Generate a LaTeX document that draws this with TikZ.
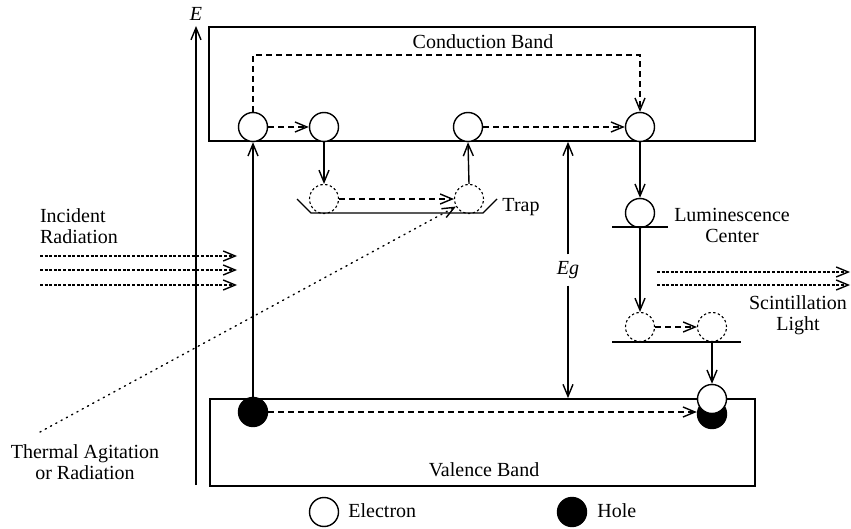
\documentclass[tikz,border=0pt]{standalone}
\usepackage{fontspec}
\setmainfont{Liberation Serif}
\usetikzlibrary{arrows.meta,positioning,calc}

\begin{document}
\begin{tikzpicture}[x=0.5pt, y=-0.5pt,
  band/.style={draw, rectangle, line width=0.85pt, inner sep=0pt},
  elec/.style={draw, circle, fill=white, minimum size=14.5pt, inner sep=0pt, line width=0.7pt},
  hole/.style={draw, circle, fill=black, minimum size=14.5pt, inner sep=0pt, line width=0.7pt},
  trapped/.style={draw, circle, minimum size=14.5pt, inner sep=0pt, line width=0.55pt, dash pattern=on 1.2pt off 1.2pt},
  lbl/.style={font=\fontsize{10}{10.5}\selectfont, align=center},
  arr/.style={-{Straight Barb[length=6pt,width=5pt]}, line width=0.7pt},
  dasharr/.style={arr, dash pattern=on 3pt off 2pt},
  rayarr/.style={arr, dash pattern=on 1.5pt off 0.8pt},
  dotarr/.style={arr, dash pattern=on 0.6pt off 2.4pt, line cap=round}
]
\useasboundingbox (0,0) rectangle (851,529);

% bands and axis
\node[band, minimum width=273pt, minimum height=57pt] (cb) at (482,84) {};
\node[band, minimum width=272.5pt, minimum height=43.5pt] (vb) at (482.5,442.5) {};
\node[lbl] (cbname) at (483,42) {Conduction Band};
\node[lbl] (vbname) at (484,470) {Valence Band};
\coordinate (axbot) at (196,485);
\coordinate (axtop) at (196,26);
\draw[arr] (axbot) -- (axtop);
\node[lbl] (elab) at (196,14) {\textit{E}};

% carriers
\node[elec] (e1) at (253,127) {};
\node[elec] (e2) at (324,127) {};
\node[elec] (e3) at (468,127) {};
\node[elec] (e4) at (640,127) {};
\node[trapped] (t1) at (324,199) {};
\node[trapped] (t2) at (469,199) {};
\node[elec] (lc) at (640,213) {};
\node[trapped] (s1) at (640,327) {};
\node[trapped] (s2) at (712,327) {};
\node[hole] (h1) at (253,412) {};
\node[hole] (h2) at (712,414) {};
\node[elec] (e5) at (712,399) {};

% levels
\draw[line width=0.7pt] (297,199) -- (311,213) -- (483,213) -- (497,199);
\draw[line width=0.7pt] (612,227) -- (668,227);
\draw[line width=0.7pt] (612,342) -- (741,342);

% transitions
\coordinate (loop) at (253,55);
\draw[dasharr] (e1.north) -- (loop) -| (e4.north);
\draw[dasharr] (e1.east) -- (e2.west);
\draw[dasharr] (e3.east) -- (e4.west);
\draw[dasharr] (t1.east) -- (t2.west);
\draw[dasharr] (s1.east) -- (s2.west);
\draw[dasharr] (h1.east) -- (h1.east -| h2.west);
\draw[arr] (h1.north) -- (e1.south);
\draw[arr] (e2.south) -- (t1.north);
\draw[arr] (t2.north) -- (e3.south);
\draw[arr] (e4.south) -- (lc.north);
\draw[arr] (lc.south) -- (s1.north);
\draw[arr] (s2.south) -- (e5.north);

% band gap
\node[lbl] (eg) at (568,270) {\textit{Eg}};
\draw[arr] (eg.north) -- (eg |- cb.south);
\draw[arr] (eg.south) -- (eg |- vb.north);

% radiation
\foreach \y in {256,270,285}
  \draw[rayarr] (40,\y) coordinate (in\y) -- (237,\y) coordinate (out\y);
\node[lbl, align=left, anchor=west] (incident) at (33,226) {Incident\\Radiation};
\coordinate (therm) at (40,432);
\draw[dotarr] (therm) -- (t2.210);
\node[lbl] (thermal) at (85,462) {Thermal Agitation\\or Radiation};
\foreach \y in {272,285}
  \draw[rayarr] (657,\y) coordinate (sa\y) -- (850,\y) coordinate (sb\y);
\node[lbl] (scint) at (798,315) {Scintillation\\Light};
\node[lbl] (trap) at (521,207) {Trap};
\node[lbl] (lumin) at (732,225) {Luminescence\\Center};

% legend
\node[elec] (kelec) at (324,512) {};
\node[lbl, anchor=west, inner sep=0pt] (kelectxt) at (348,511) {Electron};
\node[hole] (khole) at (572,512) {};
\node[lbl, anchor=west, inner sep=0pt] (kholetxt) at (597,511) {Hole};
\end{tikzpicture}
\end{document}
